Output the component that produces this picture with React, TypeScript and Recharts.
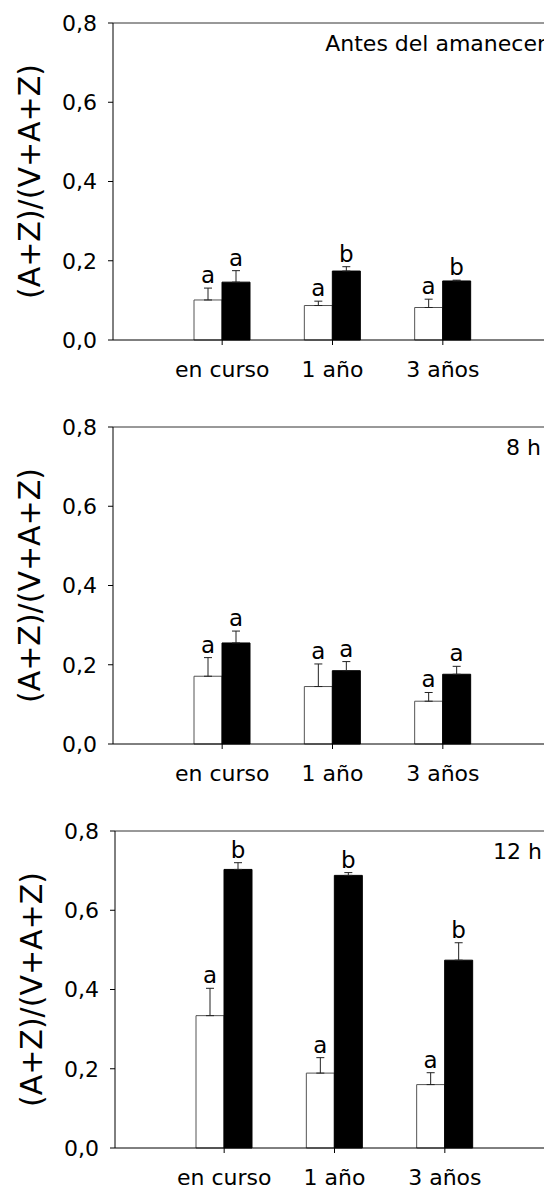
import { BarChart, Bar, XAxis, YAxis, ErrorBar, LabelList, ReferenceLine } from 'recharts';

// --- Data ---

const CATEGORIES = ['en curso', '1 año', '3 años'];
const Y_TICKS = [0, 0.2, 0.4, 0.6, 0.8];

// Antes del amanecer
const DAWN_WHITE = [0.101, 0.087, 0.082];
const DAWN_WHITE_ERR = [0.030, 0.011, 0.021];
const DAWN_BLACK = [0.146, 0.174, 0.149];
const DAWN_BLACK_ERR = [0.029, 0.011, 0.002];
const DAWN_WHITE_LETTERS = ['a', 'a', 'a'];
const DAWN_BLACK_LETTERS = ['a', 'b', 'b'];

// 8 h
const H8_WHITE = [0.171, 0.145, 0.108];
const H8_WHITE_ERR = [0.047, 0.057, 0.022];
const H8_BLACK = [0.255, 0.185, 0.176];
const H8_BLACK_ERR = [0.030, 0.023, 0.020];
const H8_WHITE_LETTERS = ['a', 'a', 'a'];
const H8_BLACK_LETTERS = ['a', 'a', 'a'];

// 12 h
const H12_WHITE = [0.334, 0.189, 0.160];
const H12_WHITE_ERR = [0.069, 0.039, 0.030];
const H12_BLACK = [0.703, 0.688, 0.474];
const H12_BLACK_ERR = [0.017, 0.007, 0.044];
const H12_WHITE_LETTERS = ['a', 'a', 'a'];
const H12_BLACK_LETTERS = ['b', 'b', 'b'];

const FONT = '"DejaVu Sans", Verdana, sans-serif';
const Y_LABEL = '(A+Z)/(V+A+Z)';

const fmt = (v: number) => v.toFixed(1).replace('.', ',');

interface PanelProps {
  title: string;
  titleInset: number;
  shift?: number;
  white: number[];
  whiteErr: number[];
  black: number[];
  blackErr: number[];
  whiteLetters: string[];
  blackLetters: string[];
}

// letter drawn just above the top of the error bar
function letterContent(letters: string[], errs: number[]) {
  return (p: any) => {
    const { x, y, width, height, value, index } = p;
    const errPx = value ? (errs[index] / value) * height : 0;
    return (
      <text
        x={x + width / 2}
        y={y - errPx - 5}
        textAnchor="middle"
        fontSize={23}
        fontFamily={FONT}
        fill="#000"
      >
        {letters[index]}
      </text>
    );
  };
}

function Panel({ title, titleInset, shift = 0, white, whiteErr, black, blackErr, whiteLetters, blackLetters }: PanelProps) {
  const data = CATEGORIES.map((name, i) => ({
    name,
    white: white[i],
    black: black[i],
    whiteErr: [0, whiteErr[i]],
    blackErr: [0, blackErr[i]],
  }));

  return (
    <BarChart
      width={552}
      height={404}
      data={data}
      margin={{ top: 23, right: 0, bottom: 0, left: shift }}
      barGap={0}
      barSize={28}
      style={{ display: 'block' }}
    >
      <XAxis
        dataKey="name"
        height={64}
        padding={{ left: 54, right: 54 - shift }}
        tickSize={5}
        tickMargin={16}
        stroke="#000"
        tick={{ fontSize: 22, fill: '#000', fontFamily: FONT }}
      />
      <YAxis
        width={113}
        domain={[0, 0.8]}
        ticks={Y_TICKS}
        tickFormatter={fmt}
        tickSize={5}
        tickMargin={11}
        stroke="#000"
        tick={{ fontSize: 22, fill: '#000', fontFamily: FONT }}
        label={{
          content: (p: any) => {
            const vb = p.viewBox;
            const cy = vb.y + vb.height / 2;
            const cx = 29 + shift;
            return (
              <text
                x={cx}
                y={cy}
                transform={`rotate(-90, ${cx}, ${cy})`}
                textAnchor="middle"
                dominantBaseline="central"
                fontSize={30}
                fontFamily={FONT}
                fill="#000"
              >
                {Y_LABEL}
              </text>
            );
          },
        }}
      />
      <ReferenceLine
        y={0.8}
        stroke="#333"
        label={{
          content: (p: any) => {
            const vb = p.viewBox;
            return (
              <text
                x={552 - titleInset}
                y={vb.y + 28}
                textAnchor="end"
                fontSize={22}
                fontFamily={FONT}
                fill="#000"
              >
                {title}
              </text>
            );
          },
        }}
      />
      <Bar dataKey="white" fill="#fff" stroke="#555" strokeWidth={1} isAnimationActive={false}>
        <ErrorBar dataKey="whiteErr" direction="y" width={4} stroke="#222" strokeWidth={1} />
        <LabelList dataKey="white" content={letterContent(whiteLetters, whiteErr)} />
      </Bar>
      <Bar dataKey="black" fill="#000" stroke="#000" strokeWidth={1} isAnimationActive={false}>
        <ErrorBar dataKey="blackErr" direction="y" width={4} stroke="#222" strokeWidth={1} />
        <LabelList dataKey="black" content={letterContent(blackLetters, blackErr)} />
      </Bar>
    </BarChart>
  );
}

export default function App() {
  return (
    <div style={{ marginLeft: -8, marginTop: -8, width: 552, background: '#fff' }}>
      <Panel
        title="Antes del amanecer"
        titleInset={6}
        white={DAWN_WHITE}
        whiteErr={DAWN_WHITE_ERR}
        black={DAWN_BLACK}
        blackErr={DAWN_BLACK_ERR}
        whiteLetters={DAWN_WHITE_LETTERS}
        blackLetters={DAWN_BLACK_LETTERS}
      />
      <Panel
        title="8 h"
        titleInset={11}
        white={H8_WHITE}
        whiteErr={H8_WHITE_ERR}
        black={H8_BLACK}
        blackErr={H8_BLACK_ERR}
        whiteLetters={H8_WHITE_LETTERS}
        blackLetters={H8_BLACK_LETTERS}
      />
      <Panel
        title="12 h"
        titleInset={10}
        shift={2}
        white={H12_WHITE}
        whiteErr={H12_WHITE_ERR}
        black={H12_BLACK}
        blackErr={H12_BLACK_ERR}
        whiteLetters={H12_WHITE_LETTERS}
        blackLetters={H12_BLACK_LETTERS}
      />
    </div>
  );
}
